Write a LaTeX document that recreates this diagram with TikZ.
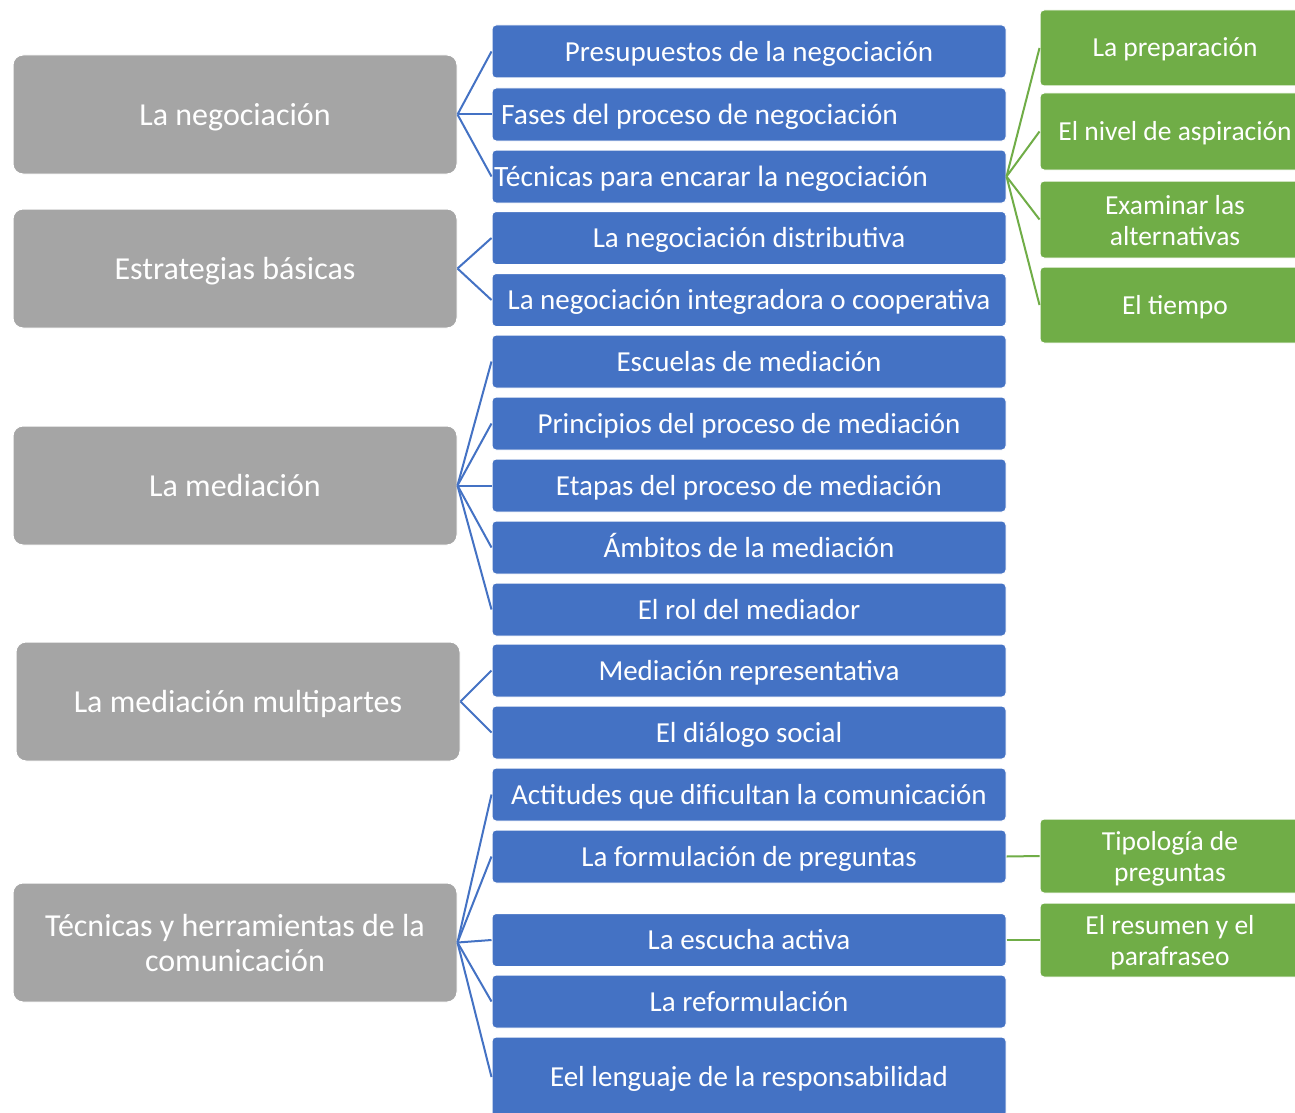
\documentclass[tikz,border=0pt]{standalone}
\usepackage{fontspec}
\setmainfont{Carlito}
\definecolor{grayA}{HTML}{A5A5A5}
\definecolor{blueA}{HTML}{4472C4}
\definecolor{greenA}{HTML}{70AD47}
\begin{document}
\begin{tikzpicture}[x=1pt,y=-1pt,
  base/.style={draw=white, line width=1pt, text=white, inner sep=2pt, align=center},
  graybox/.style={base, fill=grayA, rounded corners=10pt, minimum width=444pt, minimum height=119pt, font=\fontsize{32}{35}\selectfont},
  grayone/.style={graybox, text height=26.6pt, text depth=5.4pt},
  bluebox/.style={base, fill=blueA, rounded corners=4pt, minimum width=514pt, minimum height=53pt, font=\fontsize{29}{32}\selectfont, text height=24.2pt, text depth=4.8pt},
  btext/.style={text=white, inner sep=0pt, font=\fontsize{29.5}{32}\selectfont, text height=24.2pt, text depth=4.8pt},
  greenbox/.style={base, fill=greenA, rounded corners=4pt, minimum width=270pt, minimum height=76pt, font=\fontsize{27.5}{31}\selectfont},
  greenone/.style={greenbox, text height=23pt, text depth=5pt},
  gtext/.style={text=white, inner sep=0pt, align=center, font=\fontsize{27.5}{31}\selectfont},
  bline/.style={draw=blueA, line width=2pt},
  gline/.style={draw=greenA, line width=2pt}]
\path[use as bounding box] (0,0) rectangle (1295,1113);
\clip (0,0) rectangle (1295,1113);
\fill[white] (0,0) rectangle (1295,1113);

% gray boxes
\node[grayone] (g1) at (235,114.5) {La negociación};
\node[grayone] (g2) at (235,268.5) {Estrategias básicas};
\node[grayone] (g3) at (235,485.5) {La mediación};
\node[grayone] (g4) at (238,701.5) {La mediación multipartes};
\node[graybox] (g5) at (235,942.5) {Técnicas y herramientas de la\\comunicación};

% blue boxes
\node[bluebox] (b1) at (749,51.5) {Presupuestos de la negociación};
\node[bluebox] (b2) at (749,114.5) {};
\node[btext, anchor=west] (t2) at (501,114.5) {Fases del proceso de negociación};
\node[bluebox] (b3) at (749,176.5) {};
\node[btext, anchor=west] (t3) at (494,176.5) {Técnicas para encarar la negociación};
\node[bluebox] (b4) at (749,238) {La negociación distributiva};
\node[bluebox] (b5) at (749,300) {La negociación integradora o cooperativa};
\node[bluebox] (b6) at (749,361.5) {Escuelas de mediación};
\node[bluebox] (b7) at (749,423.5) {Principios del proceso de mediación};
\node[bluebox] (b8) at (749,485.5) {Etapas del proceso de mediación};
\node[bluebox] (b9) at (749,547.5) {Ámbitos de la mediación};
\node[bluebox] (b10) at (749,609.5) {El rol del mediador};
\node[bluebox] (b11) at (749,670.5) {Mediación representativa};
\node[bluebox] (b12) at (749,732.5) {El diálogo social};
\node[bluebox] (b13) at (749,794.5) {Actitudes que dificultan la comunicación};
\node[bluebox] (b14) at (749,856.5) {La formulación de preguntas};
\node[bluebox] (b15) at (749,940) {La escucha activa};
\node[bluebox] (b16) at (749,1001.5) {La reformulación};
\node[bluebox, minimum height=80pt] (b17) at (749,1077) {Eel lenguaje de la responsabilidad};

% green boxes
\node[greenone] (r1) at (1175,48) {La preparación};
\node[greenone, minimum height=77pt] (r2) at (1175,131.5) {El nivel de aspiración};
\node[greenbox, minimum height=77pt] (r3) at (1175,219.5) {};
\node[gtext] (l3) at (1175,220.5) {Examinar las\\alternativas};
\node[greenone] (r4) at (1175,305) {El tiempo};
\node[greenbox, minimum width=260pt, minimum height=74pt] (r5) at (1170,856) {};
\node[gtext] (l5) at (1170,858.5) {Tipología de\\preguntas};
\node[greenbox, minimum width=260pt, minimum height=74pt] (r6) at (1170,940) {};
\node[gtext] (l6) at (1170,942.5) {El resumen y el\\parafraseo};

% connectors
\foreach \b in {b1,b2,b3} \draw[bline] (g1.east) -- (\b.west);
\foreach \b in {b4,b5} \draw[bline] (g2.east) -- (\b.west);
\foreach \b in {b6,b7,b8,b9,b10} \draw[bline] (g3.east) -- (\b.west);
\foreach \b in {b11,b12} \draw[bline] (g4.east) -- (\b.west);
\foreach \b in {b13,b14,b15,b16,b17} \draw[bline] (g5.east) -- (\b.west);
\foreach \r in {r1,r2,r3,r4} \draw[gline] (b3.east) -- (\r.west);
\draw[gline] (b14.east) -- (r5.west);
\draw[gline] (b15.east) -- (r6.west);
\end{tikzpicture}
\end{document}
